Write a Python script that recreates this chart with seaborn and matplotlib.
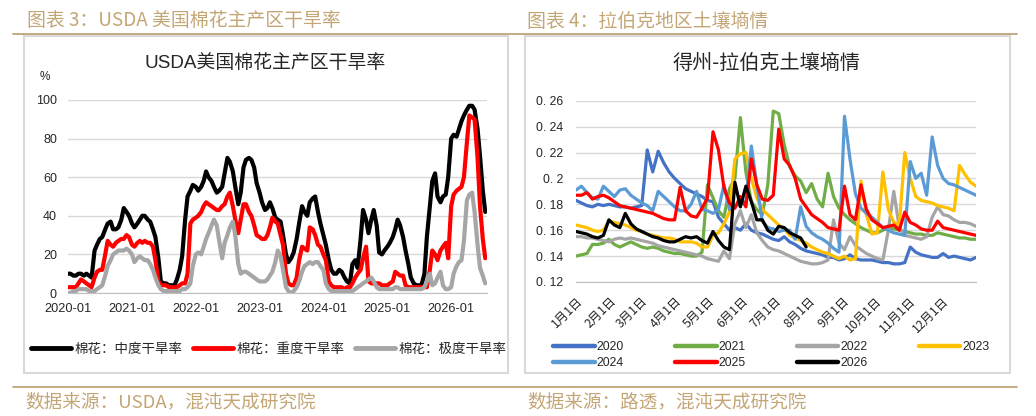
import numpy as np
import pandas as pd
import matplotlib
matplotlib.use('Agg')
import matplotlib.pyplot as plt
from matplotlib.patches import Rectangle
from matplotlib.lines import Line2D
import seaborn as sns

# 左图：USDA 美国棉花主产区干旱率（半月，%）
drought_start = '2020-01-01'
moderate = [10, 10, 9, 9, 10, 10, 9, 10, 9, 8,
            22, 25, 28, 29, 33, 36, 37, 33, 33, 34,
            38, 44, 42, 40, 36, 34, 36, 38, 40, 40,
            38, 37, 33, 29, 18, 6, 5, 5, 4, 4,
            4, 7, 12, 19, 38, 50, 53, 56, 55, 53,
            55, 58, 63, 60, 58, 55, 52, 53, 55, 62,
            70, 68, 63, 55, 46, 52, 65, 69, 70, 69,
            65, 57, 52, 47, 43, 44, 47, 44, 39, 38,
            37, 30, 20, 16, 18, 21, 28, 36, 45, 42,
            40, 47, 49, 50, 42, 36, 30, 25, 17, 12,
            10, 10, 12, 11, 8, 6, 5, 15, 17, 13,
            28, 43, 38, 31, 38, 43, 35, 21, 20, 22,
            24, 26, 29, 33, 38, 35, 29, 22, 15, 8,
            5, 4, 4, 4, 10, 29, 45, 58, 62, 50,
            47, 50, 51, 60, 80, 82, 81, 85, 89, 92,
            95, 97, 97, 95, 85, 71, 53, 42]
severe = [3, 3, 3, 3, 5, 7, 6, 5, 4, 3,
          8, 11, 12, 12, 20, 27, 25, 24, 26, 27,
          28, 28, 30, 29, 25, 24, 26, 27, 26, 27,
          26, 26, 24, 17, 6, 4, 4, 4, 3, 3,
          3, 3, 4, 5, 5, 10, 36, 38, 39, 40,
          42, 45, 47, 46, 45, 44, 43, 43, 45, 46,
          50, 52, 45, 38, 31, 38, 46, 46, 42, 40,
          35, 30, 29, 28, 28, 30, 34, 39, 37, 36,
          30, 25, 10, 5, 4, 4, 8, 17, 24, 23,
          22, 34, 33, 30, 25, 24, 20, 17, 6, 4,
          3, 3, 3, 3, 2, 3, 3, 5, 8, 10,
          12, 18, 24, 6, 5, 5, 5, 5, 4, 4,
          4, 5, 6, 11, 10, 9, 9, 4, 3, 3,
          3, 3, 3, 3, 3, 3, 12, 22, 20, 17,
          22, 24, 26, 18, 45, 51, 53, 54, 55, 60,
          78, 92, 91, 90, 70, 45, 28, 18]
extreme = [0, 0, 1, 1, 2, 2, 2, 2, 1, 1,
           1, 2, 3, 4, 9, 14, 17, 20, 21, 22,
           22, 22, 23, 22, 20, 16, 18, 19, 18, 17,
           17, 15, 12, 8, 4, 2, 1, 1, 1, 1,
           1, 1, 1, 2, 2, 3, 5, 14, 20, 21,
           20, 24, 28, 31, 35, 38, 35, 27, 18, 26,
           30, 34, 37, 30, 15, 10, 11, 11, 10, 9,
           8, 7, 6, 6, 6, 7, 9, 11, 16, 22,
           19, 12, 3, 1, 0, 1, 3, 6, 11, 14,
           15, 16, 15, 16, 16, 14, 12, 5, 2, 1,
           1, 1, 1, 1, 1, 1, 1, 1, 2, 3,
           4, 5, 6, 7, 8, 6, 3, 2, 2, 2,
           2, 2, 2, 3, 3, 2, 2, 2, 2, 2,
           2, 2, 2, 2, 3, 6, 10, 4, 5, 8,
           11, 4, 2, 2, 3, 10, 14, 16, 17, 27,
           48, 51, 52, 42, 25, 13, 9, 5]
drought_names = ['棉花：中度干旱率', '棉花：重度干旱率', '棉花：极度干旱率']
drought_colors = ['#000000', '#FF0000', '#A6A6A6']
year_ticks = ['2020-01-01', '2021-01-01', '2022-01-01', '2023-01-01',
              '2024-01-01', '2025-01-01', '2026-01-01']

# 右图：得州-拉伯克土壤墒情（每5天一个点）
soil_days = list(range(0, 366, 5))
soil_2020 = [.183, .181, .179, .178, .180, .179, .180, .179, .178, .178,
             .177, .178, .179, .222, .205, .221, .212, .205, .200, .196,
             .192, .190, .188, .186, .183, .182, .170, .165, .160, .162,
             .160, .165, .160, .158, .157, .155, .153, .152, .155, .151,
             .149, .146, .144, .143, .142, .141, .139, .139, .137, .138,
             .141, .138, .137, .137, .137, .136, .135, .135, .134, .134,
             .135, .147, .143, .141, .140, .139, .139, .142, .139, .140,
             .139, .138, .137, .139]
soil_2021 = [.140, .141, .142, .149, .149, .150, .153, .149, .147, .149,
             .151, .149, .147, .146, .147, .146, .144, .143, .142, .142,
             .141, .140, .140, .143, .195, .185, .175, .170, .192, .200,
             .247, .205, .182, .176, .172, .195, .252, .250, .226, .209,
             .202, .198, .189, .196, .184, .178, .204, .186, .177, .172,
             .168, .165, .162, .160, .158, .158, .160, .162, .161, .160,
             .159, .158, .157, .157, .156, .156, .158, .157, .156, .155,
             .154, .154, .153, .153]
soil_2022 = [.155, .155, .154, .154, .153, .152, .151, .153, .154, .153,
             .154, .153, .152, .151, .150, .148, .147, .146, .145, .144,
             .143, .142, .141, .140, .138, .137, .136, .144, .138, .165,
             .175, .162, .172, .158, .152, .147, .145, .144, .142, .140,
             .138, .136, .135, .134, .134, .135, .137, .168, .150, .145,
             .155, .148, .145, .142, .140, .138, .137, .160, .190, .162,
             .156, .155, .154, .153, .155, .170, .178, .172, .171, .168,
             .166, .166, .165, .163]
soil_2023 = [.164, .163, .162, .160, .159, .160, .167, .166, .165, .164,
             .162, .160, .159, .157, .156, .155, .154, .154, .153, .151,
             .151, .151, .150, .147, .147, .156, .158, .165, .174, .215,
             .219, .220, .200, .185, .176, .172, .168, .164, .161, .156,
             .154, .152, .150, .147, .145, .143, .142, .140, .138, .140,
             .137, .138, .198, .172, .157, .158, .205, .176, .166, .164,
             .220, .200, .186, .183, .182, .181, .179, .178, .177, .175,
             .210, .203, .197, .194]
soil_2024 = [.191, .194, .189, .185, .184, .194, .190, .186, .191, .192,
             .187, .184, .181, .179, .175, .190, .186, .182, .178, .175,
             .175, .180, .190, .176, .175, .173, .176, .195, .176, .179,
             .180, .182, .225, .195, .167, .162, .161, .159, .160, .160,
             .153, .178, .163, .158, .155, .153, .150, .146, .143, .248,
             .215, .188, .177, .173, .170, .166, .162, .160, .158, .157,
             .156, .213, .200, .204, .187, .232, .210, .200, .196, .195,
             .193, .191, .189, .187]
soil_2025 = [.187, .187, .189, .184, .186, .187, .185, .182, .179, .178,
             .177, .176, .175, .174, .173, .171, .169, .168, .168, .193,
             .175, .171, .170, .177, .185, .236, .222, .193, .181, .177,
             .186, .178, .215, .195, .184, .183, .187, .238, .215, .210,
             .200, .184, .178, .172, .169, .166, .162, .161, .160, .194,
             .172, .168, .195, .176, .168, .165, .162, .163, .164, .160,
             .174, .166, .164, .161, .160, .160, .167, .162, .161, .160,
             .159, .158, .157, .156]
soil_2026 = [.159, .158, .157, .155, .154, .156, .168, .164, .162, .173,
             .165, .161, .159, .157, .155, .154, .152, .151, .151, .153,
             .155, .154, .155, .152, .150, .159, .152, .147, .145, .197,
             .178, .194, .182, .168, .168, .160, .157, .163, .162, .158,
             .156, .154, .147]
soil_years = ['2020', '2021', '2022', '2023', '2024', '2025', '2026']
soil_series = [soil_2020, soil_2021, soil_2022, soil_2023, soil_2024, soil_2025, soil_2026]
soil_colors = ['#4472C4', '#70AD47', '#A5A5A5', '#FFC000', '#5B9BD5', '#FF0000', '#000000']
month_days = [0, 31, 59, 90, 120, 151, 181, 212, 243, 273, 304, 334, 365]
month_labels = [f'{m}月1日' for m in range(1, 13)] + ['']
soil_ticks = [0.12, 0.14, 0.16, 0.18, 0.20, 0.22, 0.24, 0.26]
soil_tick_labels = ['0. 12', '0. 14', '0. 16', '0. 18', '0. 2', '0. 22', '0. 24', '0. 26']

sns.set_style('white')
plt.rcParams['font.family'] = ['Liberation Sans', 'Noto Sans CJK SC', 'DejaVu Sans']
plt.rcParams['lines.solid_joinstyle'] = 'round'
plt.rcParams['axes.unicode_minus'] = False

W, H = 1036, 416
fig = plt.figure(figsize=(W / 100, H / 100), dpi=100)
gold = '#C4A675'
rule = '#B79C6E'
box = '#D9D9D9'
cjk = ['Noto Sans CJK SC', 'DejaVu Sans']


def fx(px):
    return px / W


def fy(py):
    return 1 - py / H


# 标题、分隔线、来源
fig.add_artist(Line2D([fx(13), fx(1017)], [fy(34), fy(34)], color=rule, lw=1.2))
fig.add_artist(Line2D([fx(13), fx(1017)], [fy(387), fy(387)], color=rule, lw=1.2))
fig.text(fx(27), fy(21), '图表 3：USDA 美国棉花主产区干旱率', color=gold, fontsize=13.6,
         family=cjk, va='center', ha='left')
fig.text(fx(527), fy(21), '图表 4：拉伯克地区土壤墒情', color=gold, fontsize=13.6,
         family=cjk, va='center', ha='left')
fig.text(fx(25), fy(402), '数据来源：USDA，混沌天成研究院', color=gold, fontsize=13.4,
         family=cjk, va='center', ha='left')
fig.text(fx(527), fy(402), '数据来源：路透，混沌天成研究院', color=gold, fontsize=13.4,
         family=cjk, va='center', ha='left')
fig.add_artist(Rectangle((fx(24), fy(373)), fx(508 - 24), (373 - 36) / H,
                         fill=False, edgecolor=box, lw=1.5))
fig.add_artist(Rectangle((fx(525), fy(373)), fx(1010 - 525), (373 - 36) / H,
                         fill=False, edgecolor=box, lw=1.5))

# 左图
left_df = pd.DataFrame({'日期': pd.date_range(drought_start, periods=len(moderate), freq='SMS'),
                        drought_names[0]: moderate,
                        drought_names[1]: severe,
                        drought_names[2]: extreme})
left_df = left_df.melt(id_vars='日期', var_name='系列', value_name='干旱率')

ax1 = fig.add_axes([fx(68), fy(293), fx(487 - 68), (293 - 100) / H])
sns.lineplot(data=left_df, x='日期', y='干旱率', hue='系列', palette=drought_colors,
             linewidth=3.0, estimator=None, legend=False, ax=ax1)
ax1.set_xlim(pd.Timestamp('2020-01-01'), pd.Timestamp('2026-07-25'))
ax1.set_ylim(0, 100)
ax1.set_yticks(range(0, 101, 20))
ax1.set_xticks(pd.to_datetime(year_ticks))
ax1.set_xticklabels([t[:7] for t in year_ticks])
ax1.grid(axis='y', color=box, lw=1)
ax1.set_axisbelow(True)
for s in ['left', 'top', 'right']:
    ax1.spines[s].set_visible(False)
ax1.spines['bottom'].set_color('#BFBFBF')
ax1.tick_params(axis='x', length=5, color='#BFBFBF', width=1, pad=2, labelsize=9.2)
ax1.tick_params(axis='y', length=0, pad=8, labelsize=9)
ax1.set_xlabel('')
ax1.set_ylabel('')
fig.text(fx(265), fy(63), 'USDA美国棉花主产区干旱率', fontsize=13.6, ha='center', va='center')
fig.text(fx(45), fy(77), '%', fontsize=8.5, ha='center', va='center')

h1 = [Line2D([0], [0], color=c, lw=3.5) for c in drought_colors]
fig.legend(h1, drought_names, loc='center left', bbox_to_anchor=(fx(31), fy(349)),
           bbox_transform=fig.transFigure, ncol=3, frameon=False, borderpad=0,
           borderaxespad=0, handlelength=3.0, handletextpad=0.25, columnspacing=0.75,
           prop={'family': cjk, 'size': 9.7})

# 右图
frames = []
for year, vals in zip(soil_years, soil_series):
    frames.append(pd.DataFrame({'日期': soil_days[:len(vals)], '墒情': vals, '年份': year}))
right_df = pd.concat(frames, ignore_index=True)

ax2 = fig.add_axes([fx(576), fy(282), fx(976 - 576), (282 - 100.7) / H])
sns.lineplot(data=right_df, x='日期', y='墒情', hue='年份', palette=soil_colors,
             linewidth=2.3, estimator=None, legend=False, ax=ax2)
ax2.set_xlim(0, 365)
ax2.set_ylim(0.12, 0.26)
ax2.set_yticks(soil_ticks)
ax2.set_yticklabels(soil_tick_labels)
ax2.set_xticks(month_days)
ax2.set_xticklabels(month_labels, rotation=45, ha='right', rotation_mode='anchor',
                    family=cjk)
ax2.grid(axis='y', color=box, lw=1)
ax2.set_axisbelow(True)
for s in ['left', 'top', 'right']:
    ax2.spines[s].set_visible(False)
ax2.spines['bottom'].set_color('#BFBFBF')
ax2.tick_params(axis='x', length=5, color='#BFBFBF', width=1, pad=4, labelsize=8.8)
ax2.tick_params(axis='y', length=0, pad=9, labelsize=8.8)
ax2.set_xlabel('')
ax2.set_ylabel('')
fig.text(fx(767), fy(63), '得州-拉伯克土壤墒情', fontsize=14.5, ha='center', va='center',
         family=cjk)

order = [0, 4, 1, 5, 2, 6, 3]
h2 = [Line2D([0], [0], color=soil_colors[i], lw=3.2) for i in order]
fig.legend(h2, [soil_years[i] for i in order], loc='center left',
           bbox_to_anchor=(fx(553), fy(355)), bbox_transform=fig.transFigure, ncol=4,
           frameon=False, borderpad=0, borderaxespad=0, handlelength=3.4,
           handletextpad=0.15, columnspacing=4.2, labelspacing=0.35,
           prop={'size': 8.8})

fig.savefig('out.png', dpi=100)
